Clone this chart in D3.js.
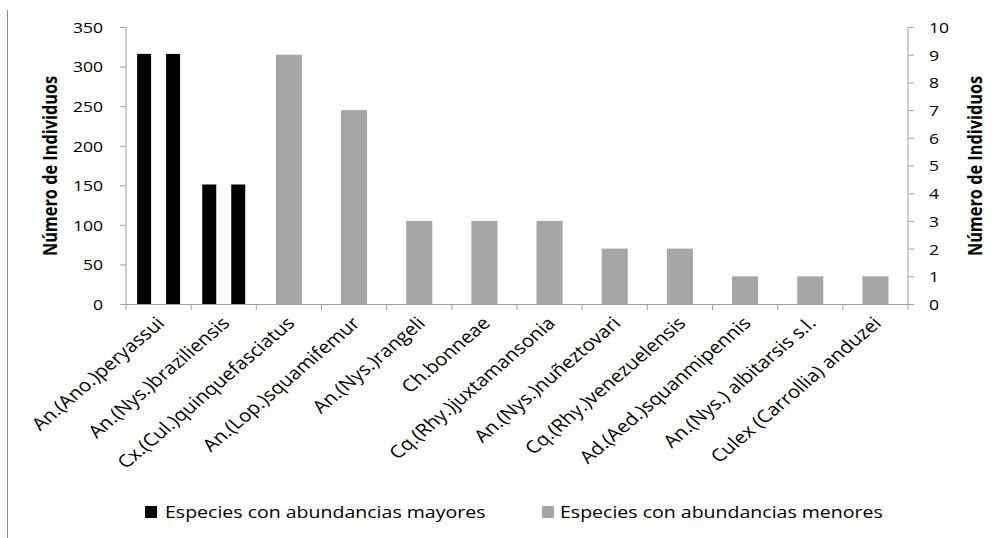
<!DOCTYPE html>
<html>
<head>
<meta charset="utf-8">
<script src="https://cdn.jsdelivr.net/npm/d3@7"></script>
<style>
  html, body { margin: 0; padding: 0; background: #fff; }
  svg { display: block; }
  text { font-family: "Open Sans", "Noto Sans", sans-serif; fill: #000; }
</style>
</head>
<body>
<div id="chart"></div>
<script>
const categories = [
  "An.(Ano.)peryassui", "An.(Nys.)braziliensis", "Cx.(Cul.)quinquefasciatus",
  "An.(Lop.)squamifemur", "An.(Nys.)rangeli", "Ch.bonneae",
  "Cq.(Rhy.)juxtamansonia", "An.(Nys.)nuñeztovari", "Cq.(Rhy.)venezuelensis",
  "Ad.(Aed.)squanmipennis", "An.(Nys.) albitarsis s.l.", "Culex (Carrollia) anduzei"
];
// Black series (primary axis), drawn as two bars per category in the original
const mayoresA = [316, 151, null, null, null, null, null, null, null, null, null, null];
const mayoresB = [316, 151, null, null, null, null, null, null, null, null, null, null];
// Gray series (secondary axis)
const menores = [null, null, 9, 7, 3, 3, 3, 2, 2, 1, 1, 1];
const leftTicks = [0, 50, 100, 150, 200, 250, 300, 350];
const rightTicks = [0, 1, 2, 3, 4, 5, 6, 7, 8, 9, 10];
const seriesNames = ["Especies con abundancias mayores", "Especies con abundancias menores"];
const colors = ["#000000", "#a6a6a6"];

const W = 1004, H = 538;
const sx = 1.17; // the original picture is horizontally stretched
const X = v => v / sx; // convert picture px to logical px
const plot = { left: X(126), right: X(908), top: 27, bottom: 304 };

const svg = d3.select("#chart").append("svg").attr("width", W).attr("height", H);
const root = svg.append("g").attr("transform", `scale(${sx},1)`);

const axisColor = "#a0a0a0";

root.append("line").attr("x1", X(7.5)).attr("x2", X(7.5)).attr("y1", 10).attr("y2", H)
  .attr("stroke", "#8c8c8c").attr("stroke-width", 1 / sx);

const x = d3.scaleBand().domain(categories).range([plot.left, plot.right]).padding(0);
const xSub = d3.scaleBand().domain([0, 1]).range([0, x.bandwidth()]).paddingInner(0.517).paddingOuter(0.383);
const yL = d3.scaleLinear().domain([0, 350]).range([plot.bottom, plot.top]);
const yR = d3.scaleLinear().domain([0, 10]).range([plot.bottom, plot.top]);

[mayoresA, mayoresB].forEach((arr, si) => {
  root.append("g").selectAll("rect")
    .data(categories.map((c, i) => ({ c, v: arr[i] })).filter(d => d.v != null))
    .join("rect")
    .attr("x", d => x(d.c) + xSub(si))
    .attr("width", xSub.bandwidth())
    .attr("y", d => yL(d.v))
    .attr("height", d => yL(0) - yL(d.v))
    .attr("fill", colors[0]);
});

const grayW = x.bandwidth() * 0.4;
root.append("g").selectAll("rect")
  .data(categories.map((c, i) => ({ c, v: menores[i] })).filter(d => d.v != null))
  .join("rect")
  .attr("x", d => x(d.c) + x.bandwidth() / 2 - grayW / 2)
  .attr("width", grayW)
  .attr("y", d => yR(d.v))
  .attr("height", d => yR(0) - yR(d.v))
  .attr("fill", colors[1]);

const gL = root.append("g").attr("transform", `translate(${plot.left},0)`)
  .call(d3.axisLeft(yL).tickValues(leftTicks).tickSize(X(6)).tickPadding(X(17)));
const gR = root.append("g").attr("transform", `translate(${plot.right},0)`)
  .call(d3.axisRight(yR).tickValues(rightTicks).tickSize(X(6)).tickPadding(X(15)));
[gL, gR].forEach(g => {
  g.select(".domain").remove();
  g.selectAll(".tick line").attr("stroke", axisColor);
  g.selectAll(".tick text").style("font-size", "15px")
    .style("font-family", "'Open Sans', sans-serif").attr("fill", "#000").attr("dy", "0.36em");
});
root.append("line").attr("x1", plot.left).attr("x2", plot.left).attr("y1", plot.top).attr("y2", plot.bottom)
  .attr("stroke", axisColor).attr("stroke-width", 1 / sx);
root.append("line").attr("x1", plot.right).attr("x2", plot.right).attr("y1", plot.top).attr("y2", plot.bottom)
  .attr("stroke", axisColor).attr("stroke-width", 1 / sx);

const boundaries = categories.map(c => x(c)).concat([plot.right]);
root.append("line").attr("x1", plot.left).attr("x2", plot.right)
  .attr("y1", plot.bottom + 0.5).attr("y2", plot.bottom + 0.5).attr("stroke", axisColor);
root.append("g").selectAll("line").data(boundaries).join("line")
  .attr("x1", d => d).attr("x2", d => d)
  .attr("y1", plot.bottom).attr("y2", plot.bottom + 6)
  .attr("stroke", axisColor).attr("stroke-width", 1 / sx);

root.append("g").selectAll("text").data(categories).join("text")
  .attr("transform", c => `translate(${x(c) + x.bandwidth() / 2 + X(2)},${plot.bottom + 16}) rotate(-45)`)
  .attr("text-anchor", "end")
  .attr("dy", "0.35em")
  .style("font-size", "17.5px")
  .text(c => c);

root.append("text")
  .attr("transform", `translate(${X(57)},166) rotate(-90)`)
  .attr("text-anchor", "middle")
  .style("font-size", "16.3px").style("font-weight", "bold")
  .text("Número de Individuos");
root.append("text")
  .attr("transform", `translate(${X(982)},166) rotate(-90)`)
  .attr("text-anchor", "middle")
  .style("font-size", "16.3px").style("font-weight", "bold")
  .text("Número de Individuos");

const legendItems = [
  { name: seriesNames[0], color: colors[0], x: 145, tx: 165 },
  { name: seriesNames[1], color: colors[1], x: 542, tx: 560 }
];
legendItems.forEach(d => {
  root.append("rect").attr("x", X(d.x)).attr("y", 506).attr("width", X(12)).attr("height", 12).attr("fill", d.color);
  root.append("text").attr("x", X(d.tx)).attr("y", 518.5)
    .style("font-size", "16.7px").text(d.name);
});
</script>
</body>
</html>
